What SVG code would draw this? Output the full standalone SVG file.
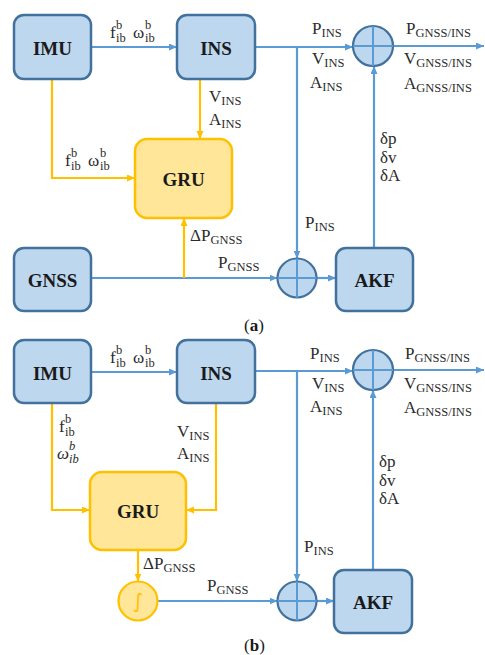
<svg xmlns="http://www.w3.org/2000/svg" width="485" height="655" viewBox="0 0 485 655">
  <style>
    .box { fill: #BDD7EE; stroke: #41719C; stroke-width: 2.5; }
    .gru { fill: #FFE699; stroke: #FFC000; stroke-width: 2.5; }
    .sum { fill: #BDD7EE; stroke: #41719C; stroke-width: 2.2; }
    .cross { stroke: #5B9BD5; stroke-width: 2; fill: none; }
    .integ { fill: #FFE699; stroke: #FFC000; stroke-width: 2.2; }
    .blue { fill: none; stroke: #5B9BD5; stroke-width: 2.2; }
    .yel { fill: none; stroke: #FFC000; stroke-width: 2.2; }
    .name { font-family: "Liberation Serif", serif; font-weight: bold; font-size: 19px; fill: #1a1a1a; text-anchor: middle; }
    .lbl { font-family: "Liberation Serif", serif; font-size: 17px; fill: #2b2b2b; }
    .sub { font-size: 12.5px; }
    .it { font-style: italic; }
    .cap { font-family: "Liberation Serif", serif; font-size: 17px; fill: #1a1a1a; }
  </style>
  <defs>
    <marker id="arrB" markerUnits="userSpaceOnUse" markerWidth="9" markerHeight="8" refX="8" refY="3.5" orient="auto">
      <path d="M0,0 L8,3.5 L0,7 z" fill="#5B9BD5"/>
    </marker>
    <marker id="arrY" markerUnits="userSpaceOnUse" markerWidth="9" markerHeight="8" refX="8" refY="3.5" orient="auto">
      <path d="M0,0 L8,3.5 L0,7 z" fill="#FFC000"/>
    </marker>
  </defs>

  <!-- connectors -->
  <g id="connectors">
    <!-- panel a -->
    <path class="blue" d="M91,47 H177" marker-end="url(#arrB)"/>
    <path class="blue" d="M255,47 H353" marker-end="url(#arrB)"/>
    <path class="blue" d="M297,47 V258.5" marker-end="url(#arrB)"/>
    <path class="blue" d="M393,46 H484" marker-end="url(#arrB)"/>
    <path class="blue" d="M374,248 V66" marker-end="url(#arrB)"/>
    <path class="blue" d="M91,278 H277.5" marker-end="url(#arrB)"/>
    <path class="blue" d="M316.5,278 H336" marker-end="url(#arrB)"/>
    <path class="yel" d="M52,79 V178 H135" marker-end="url(#arrY)"/>
    <path class="yel" d="M200,79 V139" marker-end="url(#arrY)"/>
    <path class="yel" d="M184,278 V218" marker-end="url(#arrY)"/>
    <!-- panel b -->
    <path class="blue" d="M91,372 H177" marker-end="url(#arrB)"/>
    <path class="blue" d="M255,371 H353" marker-end="url(#arrB)"/>
    <path class="blue" d="M297,371 V581.5" marker-end="url(#arrB)"/>
    <path class="blue" d="M393,370 H484" marker-end="url(#arrB)"/>
    <path class="blue" d="M373,570 V390" marker-end="url(#arrB)"/>
    <path class="blue" d="M157.5,601 H277.5" marker-end="url(#arrB)"/>
    <path class="blue" d="M316.5,601 H334" marker-end="url(#arrB)"/>
    <path class="yel" d="M52,403 V510 H90" marker-end="url(#arrY)"/>
    <path class="yel" d="M216,403 V510 H186" marker-end="url(#arrY)"/>
    <path class="yel" d="M138,550 V581.5" marker-end="url(#arrY)"/>
  </g>

  <!-- panel a nodes -->
  <g id="imu-a"><rect class="box" x="14" y="15" width="77" height="64" rx="10"/><text class="name" x="52.5" y="55">IMU</text></g>
  <g id="ins-a"><rect class="box" x="177" y="15" width="78" height="64" rx="10"/><text class="name" x="216" y="55">INS</text></g>
  <g id="gru-a"><rect class="gru" x="135" y="139" width="97" height="79" rx="12"/><text class="name" x="183.5" y="186">GRU</text></g>
  <g id="gnss-a"><rect class="box" x="14" y="248" width="77" height="63" rx="10"/><text class="name" x="52.5" y="287">GNSS</text></g>
  <g id="akf-a"><rect class="box" x="336" y="248" width="77" height="63" rx="10"/><text class="name" x="374.5" y="287">AKF</text></g>
  <g id="sum1-a"><circle class="sum" cx="373" cy="46" r="20"/><path class="cross" d="M353,46 H393 M373,26 V66"/></g>
  <g id="sum2-a"><circle class="sum" cx="297" cy="278" r="19.5"/><path class="cross" d="M277.5,278 H316.5 M297,258.5 V297.5"/></g>

  <!-- panel b nodes -->
  <g id="imu-b"><rect class="box" x="14" y="340" width="77" height="63" rx="10"/><text class="name" x="52.5" y="380">IMU</text></g>
  <g id="ins-b"><rect class="box" x="177" y="340" width="78" height="63" rx="10"/><text class="name" x="216" y="380">INS</text></g>
  <g id="gru-b"><rect class="gru" x="90" y="472" width="96" height="78" rx="12"/><text class="name" x="138" y="518">GRU</text></g>
  <g id="akf-b"><rect class="box" x="334" y="570" width="78" height="63" rx="10"/><text class="name" x="373" y="609">AKF</text></g>
  <g id="sum1-b"><circle class="sum" cx="373" cy="370" r="20"/><path class="cross" d="M353,370 H393 M373,350 V390"/></g>
  <g id="sum2-b"><circle class="sum" cx="297" cy="601" r="19.5"/><path class="cross" d="M277.5,601 H316.5 M297,581.5 V620.5"/></g>
  <g id="integ-b"><circle class="integ" cx="138" cy="601" r="19.5"/><text x="138" y="608" text-anchor="middle" font-family="DejaVu Sans, sans-serif" font-size="20" fill="#FFC000">∫</text></g>

  <!-- labels panel a -->
  <g id="labels-a">
    <text class="lbl" x="110" y="38">f</text>
    <text class="lbl sub" x="116" y="29">b</text>
    <text class="lbl sub" x="116" y="42">ib</text>
    <text class="lbl" x="133" y="38">ω</text>
    <text class="lbl sub" x="145" y="29">b</text>
    <text class="lbl sub" x="145" y="42">ib</text>

    <text class="lbl" x="209" y="102">V<tspan class="sub" dy="3">INS</tspan></text>
    <text class="lbl" x="209" y="125">A<tspan class="sub" dy="3">INS</tspan></text>

    <text class="lbl" x="65" y="166">f</text>
    <text class="lbl sub" x="71" y="157">b</text>
    <text class="lbl sub" x="71" y="170">ib</text>
    <text class="lbl" x="88" y="166">ω</text>
    <text class="lbl sub" x="100" y="157">b</text>
    <text class="lbl sub" x="100" y="170">ib</text>

    <text class="lbl" x="190" y="241">ΔP<tspan class="sub" dy="3">GNSS</tspan></text>
    <text class="lbl" x="218" y="268">P<tspan class="sub" dy="3">GNSS</tspan></text>

    <text class="lbl" x="312" y="34">P<tspan class="sub" dy="3">INS</tspan></text>
    <text class="lbl" x="312" y="64">V<tspan class="sub" dy="3">INS</tspan></text>
    <text class="lbl" x="310" y="88">A<tspan class="sub" dy="3">INS</tspan></text>

    <text class="lbl" x="406" y="34">P<tspan class="sub" dy="3">GNSS/INS</tspan></text>
    <text class="lbl" x="404" y="64">V<tspan class="sub" dy="3">GNSS/INS</tspan></text>
    <text class="lbl" x="404" y="89">A<tspan class="sub" dy="3">GNSS/INS</tspan></text>

    <text class="lbl" x="380" y="144">δp</text>
    <text class="lbl" x="380" y="163">δv</text>
    <text class="lbl" x="380" y="181">δA</text>

    <text class="lbl" x="305" y="228">P<tspan class="sub" dy="3">INS</tspan></text>
  </g>
  <text class="cap" x="244" y="331">(<tspan font-weight="bold">a</tspan>)</text>

  <!-- labels panel b -->
  <g id="labels-b">
    <text class="lbl" x="110" y="363">f</text>
    <text class="lbl sub" x="116" y="354">b</text>
    <text class="lbl sub" x="116" y="367">ib</text>
    <text class="lbl" x="133" y="363">ω</text>
    <text class="lbl sub" x="145" y="354">b</text>
    <text class="lbl sub" x="145" y="367">ib</text>

    <text class="lbl" x="59" y="432">f</text>
    <text class="lbl sub" x="65" y="423">b</text>
    <text class="lbl sub" x="65" y="436">ib</text>
    <text class="lbl it" x="57" y="459">ω</text>
    <text class="lbl sub it" x="69" y="450">b</text>
    <text class="lbl sub it" x="69" y="463">ib</text>

    <text class="lbl" x="177" y="437">V<tspan class="sub" dy="3">INS</tspan></text>
    <text class="lbl" x="177" y="459">A<tspan class="sub" dy="3">INS</tspan></text>

    <text class="lbl" x="143" y="569">ΔP<tspan class="sub" dy="3">GNSS</tspan></text>
    <text class="lbl" x="207" y="591">P<tspan class="sub" dy="3">GNSS</tspan></text>

    <text class="lbl" x="310" y="359">P<tspan class="sub" dy="3">INS</tspan></text>
    <text class="lbl" x="312" y="389">V<tspan class="sub" dy="3">INS</tspan></text>
    <text class="lbl" x="310" y="412">A<tspan class="sub" dy="3">INS</tspan></text>

    <text class="lbl" x="405" y="359">P<tspan class="sub" dy="3">GNSS/INS</tspan></text>
    <text class="lbl" x="404" y="389">V<tspan class="sub" dy="3">GNSS/INS</tspan></text>
    <text class="lbl" x="404" y="413">A<tspan class="sub" dy="3">GNSS/INS</tspan></text>

    <text class="lbl" x="379" y="467">δp</text>
    <text class="lbl" x="379" y="486">δv</text>
    <text class="lbl" x="379" y="504">δA</text>

    <text class="lbl" x="304" y="552">P<tspan class="sub" dy="3">INS</tspan></text>
  </g>
  <text class="cap" x="244" y="651">(<tspan font-weight="bold">b</tspan>)</text>
</svg>
